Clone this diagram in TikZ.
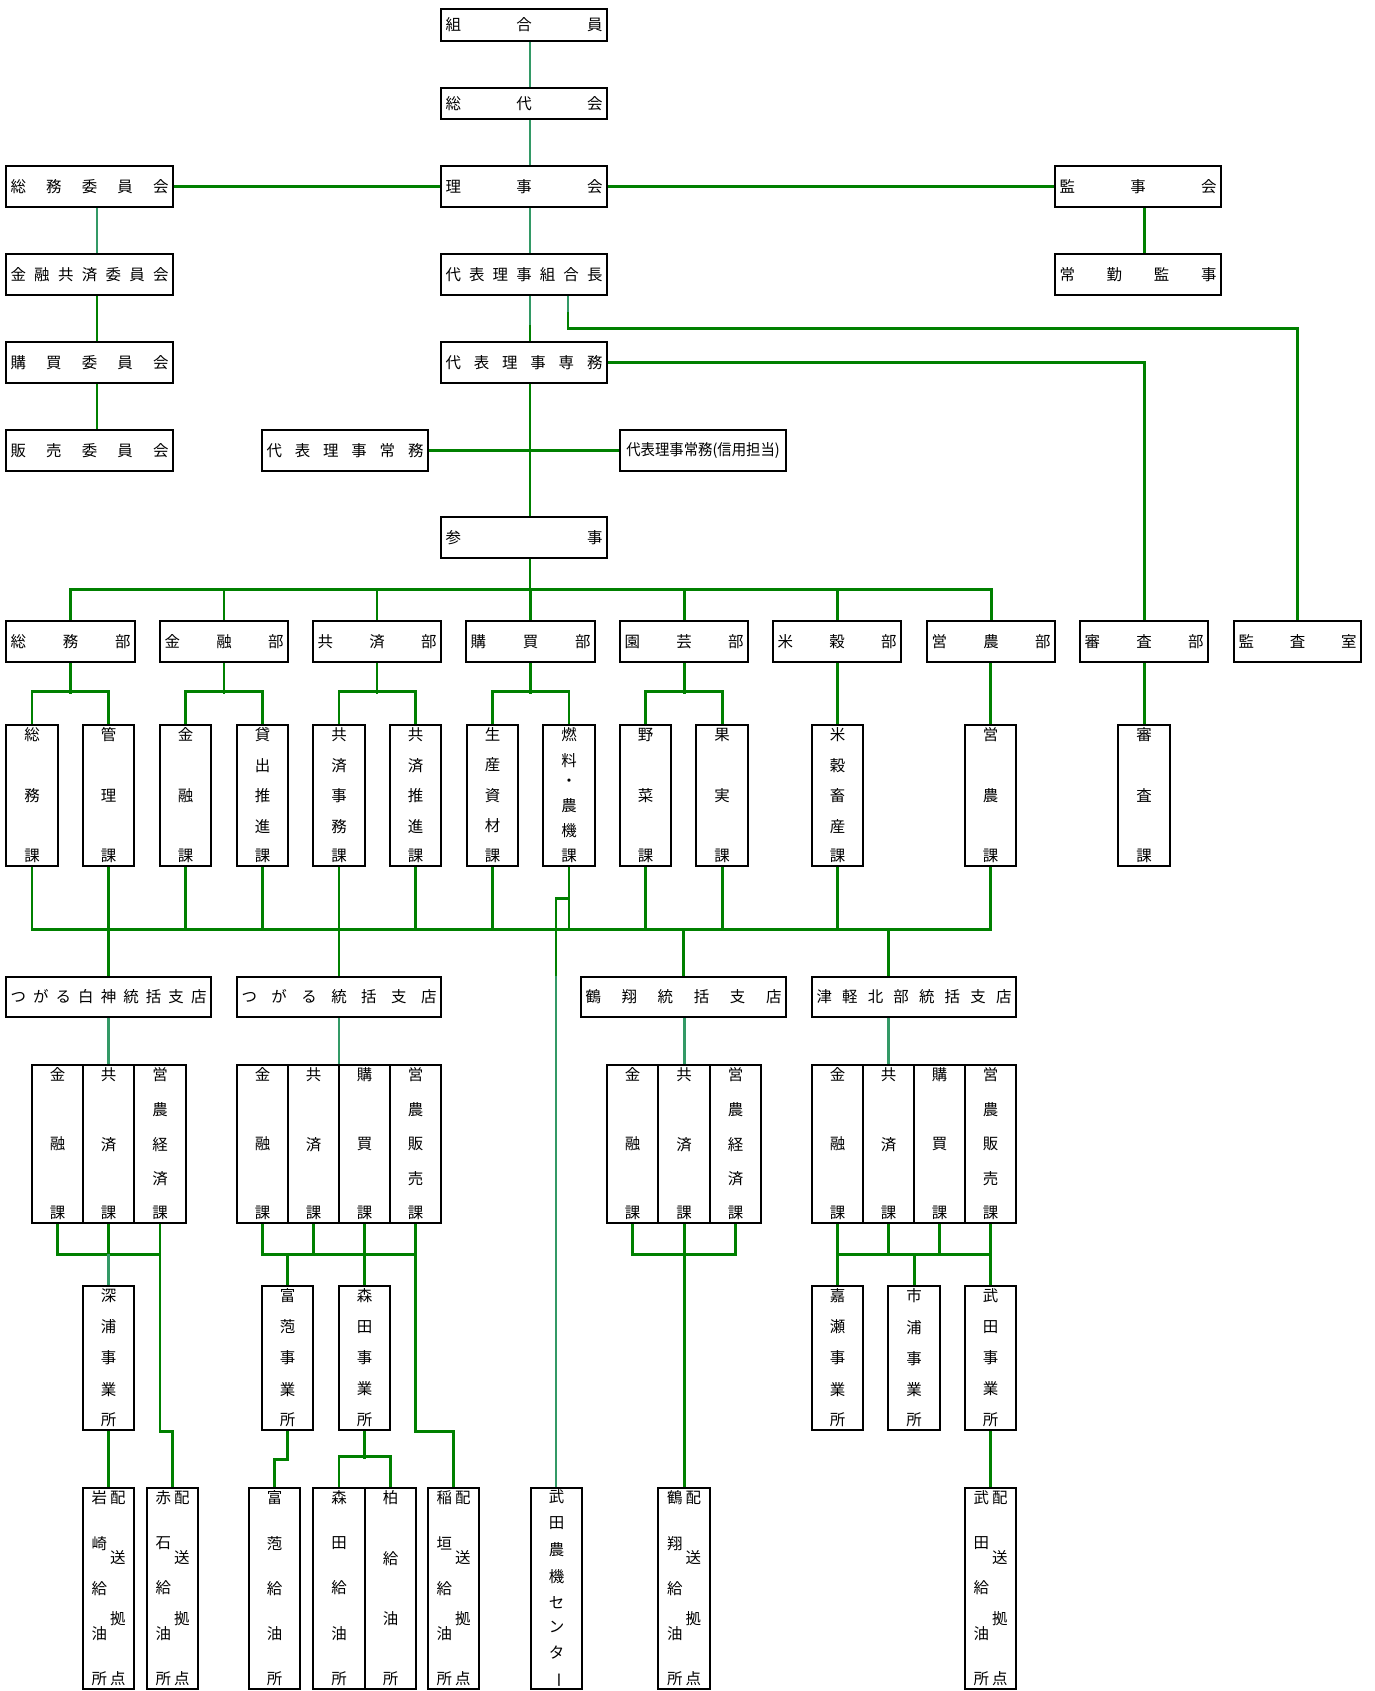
\documentclass[tikz,border=0pt]{standalone}
\usepackage{fontspec}
\newfontfamily\jpfont{Noto Sans CJK JP}
\usepackage{graphicx}
\usetikzlibrary{backgrounds, calc}
\definecolor{jagreen}{HTML}{008000}
\definecolor{jateal}{HTML}{339966}
\tikzset{
	orgbox/.style={draw, line width=1.2pt, fill=white, inner sep=0pt, font=\jpfont\fontsize{8.8}{10}\selectfont}
}
\tikzset{
	gline/.style={draw=jagreen, line width=1.7pt},
	tline/.style={draw=jateal, line width=1.7pt}
}
% characters stacked top to bottom
\newcommand{\vtxt}[2]{%
  \vbox to #1{\offinterlineskip
    \foreach \ch [count=\k] in {#2}{\ifnum\k>1 \vfill\fi\hbox to 1em{\hss\ch\hss}}}}
% box with spread horizontal text: name, x1, y1, x2, y2, chars
\newcommand{\hbx}[6]{%
  \pgfmathsetlengthmacro\boxw{(#4-#2)*0.02cm}%
  \pgfmathsetlengthmacro\boxh{(#5-#3)*0.02cm}%
  \pgfmathsetlengthmacro\txtw{(#4-#2-9)*0.02cm}%
  \node[orgbox, minimum width=\boxw, minimum height=\boxh] (#1) at ({(#2+#4)/2},{(#3+#5)/2})
    {\hbox to \txtw{\foreach \ch [count=\k] in {#6}{\ifnum\k>1 \hfill\fi\ch}}};}
% box with vertical text
\newcommand{\vbx}[6]{%
  \pgfmathsetlengthmacro\boxw{(#4-#2)*0.02cm}%
  \pgfmathsetlengthmacro\boxh{(#5-#3)*0.02cm}%
  \pgfmathsetlengthmacro\txth{(#5-#3-7)*0.02cm}%
  \node[orgbox, minimum width=\boxw, minimum height=\boxh] (#1) at ({(#2+#4)/2},{(#3+#5)/2})
    {\vtxt{\txth}{#6}};}
% box with two columns of vertical text
\newcommand{\wbx}[7]{%
  \pgfmathsetlengthmacro\boxw{(#4-#2)*0.02cm}%
  \pgfmathsetlengthmacro\boxh{(#5-#3)*0.02cm}%
  \pgfmathsetlengthmacro\txth{(#5-#3-7)*0.02cm}%
  \node[orgbox, minimum width=\boxw, minimum height=\boxh] (#1) at ({(#2+#4)/2},{(#3+#5)/2})
    {\vtxt{\txth}{#6}\kern0.06cm\vtxt{\txth}{#7}};}

\begin{document}
\begin{tikzpicture}[x=0.02cm, y=-0.02cm]
  \useasboundingbox (0,0) rectangle (1375,1691);
  % top column
  \hbx{kumiai}{441}{9}{607}{41}{組,合,員}
  \hbx{sodai}{441}{88}{607}{119}{総,代,会}
  \hbx{rijikai}{441}{166}{607}{207}{理,事,会}
  \hbx{kumiaicho}{441}{254}{607}{295}{代,表,理,事,組,合,長}
  \hbx{senmu}{441}{342}{607}{383}{代,表,理,事,専,務}
  \hbx{jomu}{262}{430}{428}{471}{代,表,理,事,常,務}
  \node[orgbox, minimum width=3.32cm, minimum height=0.82cm] (shinyo) at (703,450.5)
    {\scalebox{0.93}[1]{代表理事常務(信用担当)}};
  \hbx{sanji}{441}{517}{607}{558}{参,事}
  % committees and auditors
  \hbx{somuiin}{6}{166}{173}{207}{総,務,委,員,会}
  \hbx{kinyuiin}{6}{254}{173}{295}{金,融,共,済,委,員,会}
  \hbx{kobaiiin}{6}{342}{173}{383}{購,買,委,員,会}
  \hbx{hanbaiiin}{6}{430}{173}{471}{販,売,委,員,会}
  \hbx{kanjikai}{1055}{166}{1221}{207}{監,事,会}
  \hbx{jokin}{1055}{254}{1221}{295}{常,勤,監,事}
  % departments
  \hbx{somubu}{6}{621}{135}{662}{総,務,部}
  \hbx{kinyubu}{160}{621}{288}{662}{金,融,部}
  \hbx{kyosaibu}{313}{621}{441}{662}{共,済,部}
  \hbx{kobaibu}{466}{621}{595}{662}{購,買,部}
  \hbx{engeibu}{620}{621}{748}{662}{園,芸,部}
  \hbx{beikokubu}{773}{621}{901}{662}{米,穀,部}
  \hbx{einobu}{927}{621}{1055}{662}{営,農,部}
  \hbx{shinsabu}{1080}{621}{1208}{662}{審,査,部}
  \hbx{kansashitsu}{1234}{621}{1361}{662}{監,査,室}
  % sections
  \vbx{somuka}{6}{725}{58}{866}{総,務,課}
  \vbx{kanrika}{83}{725}{134}{866}{管,理,課}
  \vbx{kinyuka}{160}{725}{211}{866}{金,融,課}
  \vbx{kashidashi}{237}{725}{288}{866}{貸,出,推,進,課}
  \vbx{kyosaijimu}{313}{725}{365}{866}{共,済,事,務,課}
  \vbx{kyosaisuishin}{390}{725}{441}{866}{共,済,推,進,課}
  \vbx{seisanshizai}{467}{725}{518}{866}{生,産,資,材,課}
  \vbx{nenryo}{543}{725}{595}{866}{燃,料,・,農,機,課}
  \vbx{yasai}{620}{725}{671}{866}{野,菜,課}
  \vbx{kajitsu}{696}{725}{748}{866}{果,実,課}
  \vbx{beikokuchikusan}{812}{725}{863}{866}{米,穀,畜,産,課}
  \vbx{einoka}{965}{725}{1016}{866}{営,農,課}
  \vbx{shinsaka}{1118}{725}{1170}{866}{審,査,課}
  % branches
  \hbx{shirakami}{6}{977}{211}{1017}{つ,が,る,白,神,統,括,支,店}
  \hbx{tsugaru}{237}{977}{441}{1017}{つ,が,る,統,括,支,店}
  \hbx{kakusho}{581}{977}{786}{1017}{鶴,翔,統,括,支,店}
  \hbx{hokubu}{812}{977}{1016}{1017}{津,軽,北,部,統,括,支,店}
  % branch sections
  \vbx{sk1}{32}{1065}{83}{1223}{金,融,課}
  \vbx{sk2}{83}{1065}{134}{1223}{共,済,課}
  \vbx{sk3}{134}{1065}{186}{1223}{営,農,経,済,課}
  \vbx{tg1}{237}{1065}{288}{1223}{金,融,課}
  \vbx{tg2}{288}{1065}{339}{1223}{共,済,課}
  \vbx{tg3}{339}{1065}{390}{1223}{購,買,課}
  \vbx{tg4}{390}{1065}{441}{1223}{営,農,販,売,課}
  \vbx{ks1}{607}{1065}{658}{1223}{金,融,課}
  \vbx{ks2}{658}{1065}{710}{1223}{共,済,課}
  \vbx{ks3}{710}{1065}{761}{1223}{営,農,経,済,課}
  \vbx{hk1}{812}{1065}{863}{1223}{金,融,課}
  \vbx{hk2}{863}{1065}{914}{1223}{共,済,課}
  \vbx{hk3}{914}{1065}{965}{1223}{購,買,課}
  \vbx{hk4}{965}{1065}{1016}{1223}{営,農,販,売,課}
  % offices
  \vbx{fukaura}{83}{1286}{134}{1430}{深,浦,事,業,所}
  \vbx{tomiyachi}{262}{1286}{313}{1430}{富,萢,事,業,所}
  \vbx{morita}{339}{1286}{390}{1430}{森,田,事,業,所}
  \vbx{kase}{812}{1286}{863}{1430}{嘉,瀬,事,業,所}
  \vbx{ichiura}{888}{1286}{940}{1430}{市,浦,事,業,所}
  \vbx{takeda}{965}{1286}{1016}{1430}{武,田,事,業,所}
  % filling stations
  \wbx{iwasaki}{83}{1488}{134}{1689}{岩,崎,給,油,所}{配,送,拠,点}
  \wbx{akaishi}{147}{1488}{198}{1689}{赤,石,給,油,所}{配,送,拠,点}
  \vbx{tomiyachikyuyu}{249}{1488}{300}{1689}{富,萢,給,油,所}
  \vbx{moritakyuyu}{313}{1488}{365}{1689}{森,田,給,油,所}
  \vbx{kashiwa}{365}{1488}{416}{1689}{柏,給,油,所}
  \wbx{inagaki}{428}{1488}{479}{1689}{稲,垣,給,油,所}{配,送,拠,点}
  \vbx{takedanoki}{531}{1488}{582}{1689}{武,田,農,機,セ,ン,タ,\rotatebox[origin=c]{-90}{ー}}
  \wbx{kakushohaiso}{658}{1488}{710}{1689}{鶴,翔,給,油,所}{配,送,拠,点}
  \wbx{takedahaiso}{965}{1488}{1016}{1689}{武,田,給,油,所}{配,送,拠,点}

  \begin{scope}[on background layer]
    \coordinate (spine) at (530,0);
    \coordinate (lcol) at (97,0);
    \coordinate (rline) at (568,0);
    \coordinate (nkline) at (556,0);
    \coordinate (busA) at (0,589);
    \coordinate (busB) at (0,929);
    \coordinate (busC) at (0,1254);
    % top spine
    \draw[tline] (kumiai.south -| spine) -- (sodai.north -| spine);
    \draw[tline] (sodai.south -| spine) -- (rijikai.north -| spine);
    \draw[tline] (rijikai.south -| spine) -- (kumiaicho.north -| spine);
    \draw[tline] (kumiaicho.south -| spine) -- ++(0,31);
    \draw[gline] (senmu.north -| spine) -- ++(0,-16);
    \draw[gline] (senmu.south -| spine) -- (sanji.north -| spine);
    \draw[gline] (jomu.east) -- (shinyo.west);
    \draw[gline] (rijikai.west) -- (somuiin.east);
    \draw[gline] (rijikai.east) -- (kanjikai.west);
    \draw[gline] (kanjikai.south -| shinsabu) -- (jokin.north -| shinsabu);
    % committees
    \draw[tline] (somuiin.south -| lcol) -- (kinyuiin.north -| lcol);
    \draw[gline] (kinyuiin.south -| lcol) -- (kobaiiin.north -| lcol);
    \draw[gline] (kobaiiin.south -| lcol) -- (hanbaiiin.north -| lcol);
    % lines to audit
    \draw[tline] (kumiaicho.south -| rline) -- ++(0,16);
    \draw[gline] (kumiaicho.south -| rline) ++(0,16) -- ++(0,16) -| (kansashitsu.north);
    \draw[gline] (senmu.east) -| (shinsabu.north);
    % departments bus
    \draw[gline] (sanji.south -| spine) -- (busA -| spine);
    \draw[gline] (somubu.north) |- (busA -| einobu) -- (einobu.north);
    \foreach \n in {kinyubu, kyosaibu, kobaibu, engeibu, beikokubu}
      \draw[gline] (\n.north) -- (\n.north |- busA);
    % departments to sections
    \foreach \d/\a/\b in {somubu/somuka/kanrika, kinyubu/kinyuka/kashidashi,
        kyosaibu/kyosaijimu/kyosaisuishin, kobaibu/seisanshizai/nenryo, engeibu/yasai/kajitsu} {
      \draw[gline] (\d.south) -- ++(0,31);
      \draw[gline] (\a.north) -- ++(0,-32) -| (\b.north);
    }
    \draw[gline] (beikokuchikusan.north |- beikokubu.south) -- (beikokuchikusan.north);
    \draw[gline] (einoka.north |- einobu.south) -- (einoka.north);
    \draw[gline] (shinsabu.south) -- (shinsaka.north);
    % sections bus
    \draw[gline] (somuka.south) |- (busB -| einoka) -- (einoka.south);
    \foreach \n in {kanrika, kinyuka, kashidashi, kyosaijimu, kyosaisuishin,
        seisanshizai, nenryo, yasai, kajitsu, beikokuchikusan}
      \draw[gline] (\n.south) -- (\n.south |- busB);
    \draw[gline] (nenryo.south) ++(0,31) -| (nkline |- shirakami.north);
    \draw[tline] (nkline |- shirakami.north) -- (nkline |- takedanoki.north);
    % branches
    \draw[gline] (shirakami.north |- busB) -- (shirakami.north);
    \draw[gline] (tsugaru.north |- busB) -- (tsugaru.north);
    \draw[gline] (kakusho.north |- busB) -- (kakusho.north);
    \draw[gline] (hk2.north |- busB) -- (hk2.north |- hokubu.north);
    \draw[tline] (shirakami.south) -- (sk2.north);
    \draw[tline] (tsugaru.south) -- (tsugaru.south |- tg2.north);
    \draw[tline] (ks2.north |- kakusho.south) -- (ks2.north);
    \draw[tline] (hk2.north |- hokubu.south) -- (hk2.north);
    % shirakami
    \draw[gline] (sk1.south) |- (busC -| sk3);
    \draw[gline] (sk2.south) -- (sk2.south |- busC);
    \draw[tline] (sk2.south |- busC) -- (fukaura.north);
    \draw[gline] (sk3.south) |- (akaishi.north |- fukaura.south) -- (akaishi.north);
    \draw[gline] (fukaura.south) -- (iwasaki.north);
    % tsugaru
    \draw[gline] (tg1.south) |- (busC -| tg4);
    \draw[gline] (tg2.south) -- (tg2.south |- busC);
    \draw[gline] (tg3.south) -- (morita.north);
    \draw[gline] (tomiyachi.north |- busC) -- (tomiyachi.north);
    \draw[gline] (tg4.south) |- (inagaki.north |- morita.south) -- (inagaki.north);
    \draw[gline] (tomiyachi.south) -- ++(0,28) -| (tomiyachikyuyu.north);
    \draw[gline] (morita.south) -- ++(0,28);
    \draw[gline] (moritakyuyu.north) -- ++(0,-30) -| (kashiwa.north);
    % kakusho
    \draw[gline] (ks1.south) |- (busC -| ks3) -- (ks3.south);
    \draw[gline] (ks2.south) -- (kakushohaiso.north);
    % hokubu
    \draw[gline] (hk1.south) -- (kase.north);
    \draw[gline] (hk1.south |- busC) -- (busC -| hk4);
    \draw[gline] (hk2.south) -- (hk2.south |- busC);
    \draw[gline] (hk3.south) -- (hk3.south |- busC);
    \draw[gline] (hk4.south) -- (takeda.north);
    \draw[gline] (ichiura.north |- busC) -- (ichiura.north);
    \draw[gline] (takeda.south) -- (takedahaiso.north);
  \end{scope}
\end{tikzpicture}
\end{document}
